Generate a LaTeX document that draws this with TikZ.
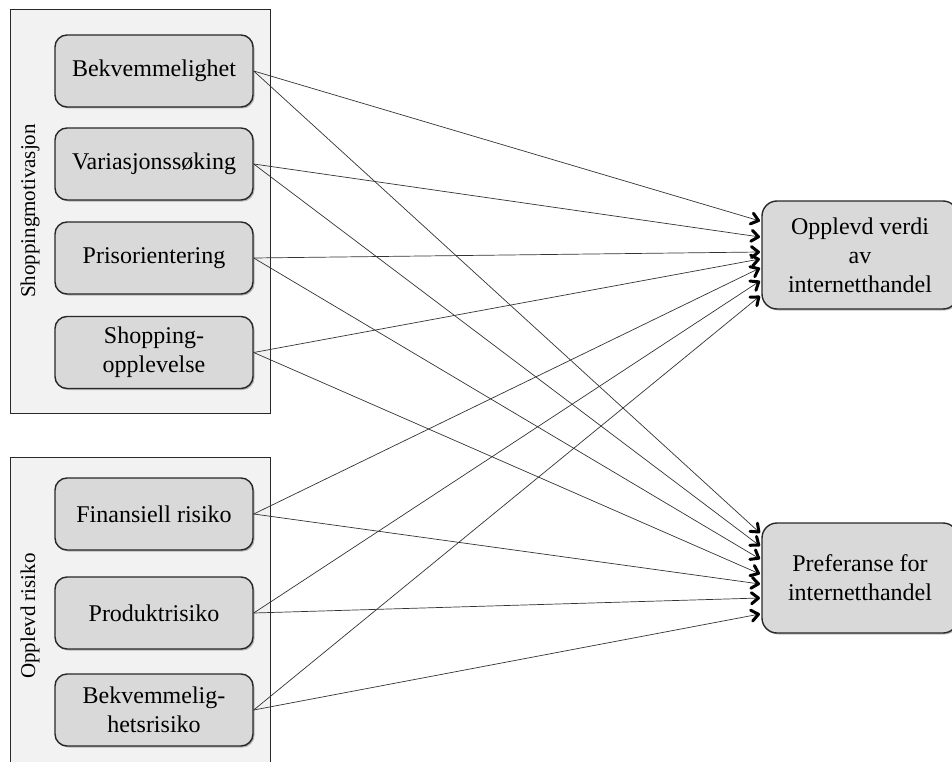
\documentclass[tikz,border=0pt]{standalone}
\usepackage{fontspec}
\setmainfont{Liberation Serif}
\usetikzlibrary{arrows.meta,shadows}
\definecolor{outerfill}{RGB}{242,242,242}
\definecolor{innerfill}{RGB}{217,217,217}
\definecolor{edgecol}{RGB}{40,40,40}
\begin{document}
\begin{tikzpicture}[x=1pt,y=-1pt,
  groupbox/.style={draw=edgecol, line width=1pt, fill=outerfill, inner sep=0pt},
  grouplabel/.style={rotate=90, font=\fontsize{21}{25}\selectfont, inner sep=0pt},
  itembox/.style={draw=edgecol, line width=1.4pt, fill=innerfill, rounded corners=12pt,
    minimum width=198pt, minimum height=72pt, align=center, inner sep=0pt,
    font=\fontsize{24}{29}\selectfont,
    drop shadow={shadow xshift=1.5pt, shadow yshift=-1.5pt, fill=black, opacity=0.25}},
  targetbox/.style={itembox, rounded corners=15pt, minimum width=196pt},
  link/.style={draw=black!80, line width=0.7pt,
    -{Straight Barb[length=7pt,width=11pt,line width=3pt 0 1,color=black,round]}}
]
\useasboundingbox (0,0) rectangle (952,762);
\clip (0,0) rectangle (952,762);

% group boxes
\node[groupbox, minimum width=260pt, minimum height=403pt] (g1) at (140,211.5) {};
\node[groupbox, minimum width=260pt, minimum height=323pt] (g2) at (140,618.5) {};
\node[grouplabel] (l1) at (30,211) {Shoppingmotivasjon};
\node[grouplabel] (l2) at (30,616) {Opplevd risiko};

% left items
\node[itembox] (b1) at (154,71) {Bekvemmelighet};
\node[itembox] (b2) at (154,164) {Variasjonssøking};
\node[itembox] (b3) at (154,258) {Prisorientering};
\node[itembox] (b4) at (154,352.5) {Shopping-\\opplevelse};
\node[itembox] (b5) at (154,514) {Finansiell risiko};
\node[itembox] (b6) at (154,613) {Produktrisiko};
\node[itembox] (b7) at (154,710) {Bekvemmelig-\\hetsrisiko};

% right targets
\node[targetbox, minimum height=108pt] (A) at (860,255) {Opplevd verdi\\av\\internetthandel};
\node[targetbox, minimum height=110pt] (B) at (860,578) {Preferanse for\\internetthandel};

% arrow end points
\coordinate (a1) at (760,221);
\coordinate (a2) at (760,237);
\coordinate (a3) at (760,252);
\coordinate (a4) at (760,259);
\coordinate (a5) at (760,268);
\coordinate (a6) at (760,281);
\coordinate (a7) at (760,296);
\coordinate (p1) at (760,533);
\coordinate (p2) at (760,546);
\coordinate (p3) at (760,559);
\coordinate (p4) at (760,574);
\coordinate (p5) at (760,584);
\coordinate (p6) at (760,598);
\coordinate (p7) at (760,614);

\foreach \i in {1,...,7}{
  \draw[link] (b\i.east) -- (a\i);
  \draw[link] (b\i.east) -- (p\i);
}
\end{tikzpicture}
\end{document}
